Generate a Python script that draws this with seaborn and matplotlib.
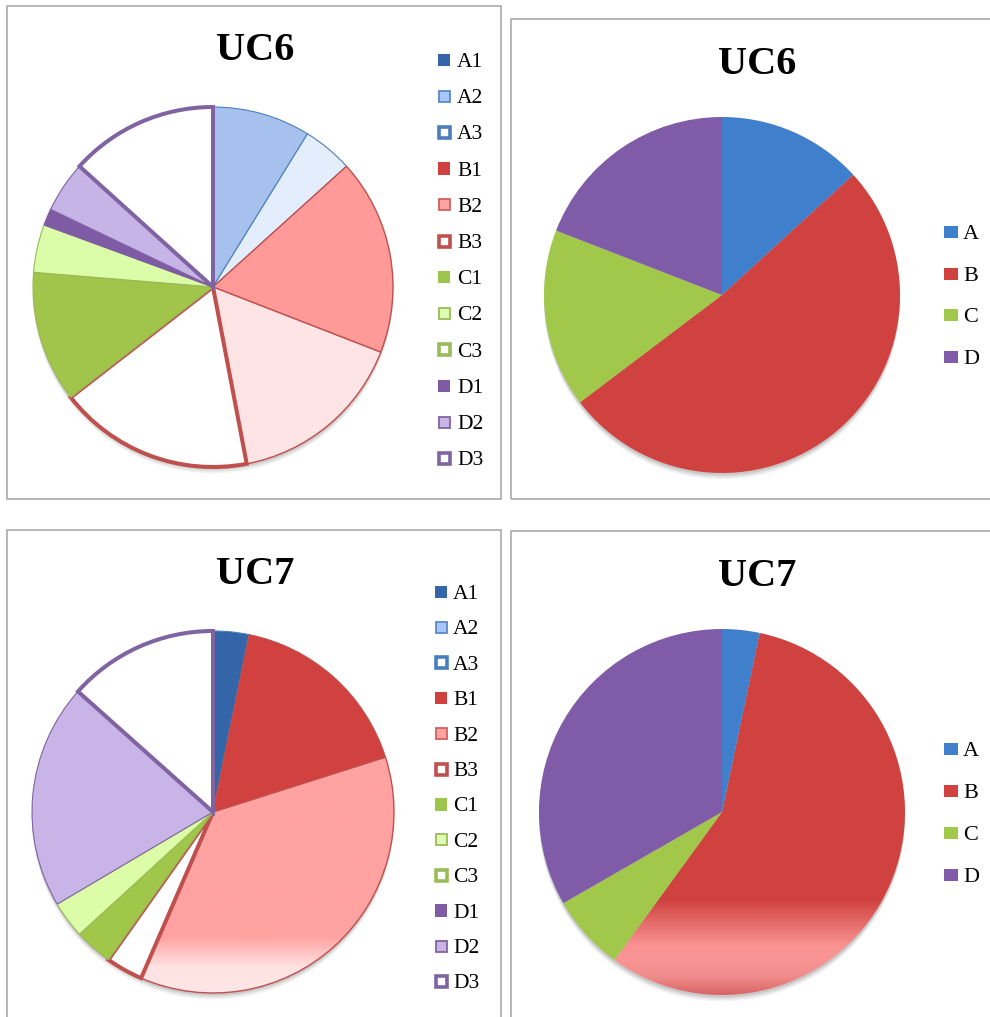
import numpy as np
import pandas as pd
import seaborn as sns
import matplotlib
matplotlib.use("Agg")
import matplotlib.pyplot as plt
from matplotlib.patches import Rectangle, Circle
from matplotlib.colors import to_rgb

sns.set_theme(style="white")
plt.rcParams['font.family'] = ['Liberation Serif', 'DejaVu Serif']
plt.rcParams['text.color'] = 'black'

# ---------------- data ----------------
detail_labels = ["A1", "A2", "A3", "B1", "B2", "B3", "C1", "C2", "C3", "D1", "D2", "D3"]
uc6_detail = [0, 8.8, 4.5, 17.6, 16.1, 17.5, 11.8, 4.3, 0, 1.5, 4.6, 13.3]
uc7_detail = [3.2, 0, 0, 16.9, 36.4, 3.3, 3.4, 3.3, 0, 0, 20.1, 13.4]
group_labels = ["A", "B", "C", "D"]
uc6_group = [13.2, 51.5, 16.2, 19.1]
uc7_group = [3.3, 56.7, 6.7, 33.3]
titles = ["UC6", "UC6", "UC7", "UC7"]

# ---------------- styles ----------------
W, H, DPI = 990, 1017, 100
BLUE_E, RED_E, GREEN_E, PURP_E = "#4A7EBB", "#C0504D", "#9BBB59", "#8064A2"
THICK = 2.9
THIN = 0.8

legend_style = [
    ("#3465A8", "#3465A8", 0.0), ("#A7C7FB", "#5B89C6", 1.3), ("white", BLUE_E, 2.6),
    ("#D0403F", "#D0403F", 0.0), ("#FFA3A2", "#D06060", 1.3), ("white", RED_E, 2.6),
    ("#9DC44B", "#9DC44B", 0.0), ("#DEFDB3", GREEN_E, 1.3), ("white", GREEN_E, 2.6),
    ("#7F5BA6", "#7F5BA6", 0.0), ("#C8B5E6", PURP_E, 1.3), ("white", PURP_E, 2.6),
]
uc6_slice_style = [
    ("#3465A8", BLUE_E, THIN), ("#A6C1EE", BLUE_E, THIN), ("#E4EDFC", BLUE_E, THIN),
    ("#FF9A98", RED_E, 1.0), ("#FFE4E5", RED_E, 1.0), ("white", RED_E, THICK),
    ("#A0C54A", "#98B954", THIN), ("#DBFCA8", "#98B954", THIN), ("white", GREEN_E, THICK),
    ("#7F5BA6", "#7F5BA6", THIN), ("#C7B4E6", PURP_E, THIN), ("white", PURP_E, THICK),
]
uc7_slice_style = [
    ("#3465A8", BLUE_E, THIN), ("#A6C1EE", BLUE_E, THIN), ("white", BLUE_E, THIN),
    ("#D04140", RED_E, THIN), ("#FFA2A1", RED_E, 1.0), ("white", RED_E, THICK),
    ("#A0C64A", "#98B954", THIN), ("#DCFCA8", "#98B954", THIN), ("white", GREEN_E, THICK),
    ("#7F5BA6", "#7F5BA6", THIN), ("#C8B4E6", PURP_E, THIN), ("white", PURP_E, THICK),
]
group_colors = ["#3F7FCC", "#D04240", "#A1C84A", "#7F5BA8"]

fig = plt.figure(figsize=(W / DPI, H / DPI), dpi=DPI)
fig.patch.set_facecolor("white")


def fx(x):
    return x / W


def fy(y):
    return 1 - y / H


def border(x0, y0, x1, y1):
    fig.add_artist(Rectangle((fx(x0), fy(y1)), (x1 - x0) / W, (y1 - y0) / H,
                             transform=fig.transFigure, fill=False,
                             ec="#A3A3A3", lw=1.1))


def pie_axes(cx, cy, r):
    ax = fig.add_axes([fx(cx - r), fy(cy + r), 2 * r / W, 2 * r / H])
    ax.set_xlim(-1, 1)
    ax.set_ylim(-1, 1)
    ax.axis("off")
    # soft shadow
    for dy, a in [(-0.035, 0.05), (-0.025, 0.07), (-0.014, 0.10)]:
        c = Circle((0, dy), 1.0, color="black", alpha=a, lw=0, zorder=0.1)
        c.set_clip_on(False)
        ax.add_patch(c)
    return ax


def gradient(ax, wedge, stops):
    ys = np.linspace(-1, 1, 500)
    pos = [s[0] for s in stops]
    cols = np.array([to_rgb(s[1]) for s in stops])
    img = np.stack([np.interp(ys, pos, cols[:, k]) for k in range(3)], axis=-1)
    img = np.repeat(img[:, None, :], 4, axis=1)
    im = ax.imshow(img, extent=[-1, 1, -1, 1], origin="lower", aspect="auto",
                   zorder=0.5, interpolation="bilinear")
    im.set_clip_path(wedge)
    wedge.set_facecolor("none")
    ax.set_xlim(-1, 1)
    ax.set_ylim(-1, 1)


def draw_pie(ax, values, styles):
    vals = [v for v in values if v > 0]
    st = [s for v, s in zip(values, styles) if v > 0]
    wedges, _ = ax.pie(vals, startangle=90, counterclock=False, radius=1,
                       colors=[s[0] for s in st])
    for w, s in zip(wedges, st):
        w.set_edgecolor(s[1])
        w.set_linewidth(s[2])
        w.set_joinstyle("miter")
        w.set_clip_on(False)
    ax.set_xlim(-1, 1)
    ax.set_ylim(-1, 1)
    ax.set_aspect("equal")
    idx = [i for i, v in enumerate(values) if v > 0]
    return dict(zip(idx, wedges))


def legend(labels, styles, mx, tx, y0, dy, size, fs, wh=None):
    for i, (lab, s) in enumerate(zip(labels, styles)):
        y = y0 + i * dy
        face, edge, lw = s
        w_ = wh[0] if wh else size
        h_ = wh[1] if wh else size
        if lw > 0:
            w_ -= 1.5
            h_ -= 1.5
        fig.add_artist(Rectangle((fx(mx - w_ / 2), fy(y + h_ / 2)), w_ / W, h_ / H,
                                 transform=fig.transFigure, fc=face, ec=edge,
                                 lw=lw, joinstyle="miter"))
        fig.text(fx(tx), fy(y), lab, fontsize=fs, ha="left", va="center_baseline",
                 color="black")


# ---------------- panel borders ----------------
border(7, 6, 501, 499)
border(511, 19, 1000, 499)
border(7, 530, 501, 1030)
border(511, 531, 1000, 1030)

# ---------------- titles ----------------
for (x, y), t in zip([(255, 51), (757, 64), (255, 574), (757, 576)], titles):
    fig.text(fx(x), fy(y), t, fontsize=29, fontweight="bold", ha="center",
             va="center", color="black")

# ---------------- UC6 detail ----------------
ax1 = pie_axes(213, 287, 180)
draw_pie(ax1, uc6_detail, uc6_slice_style)
legend(detail_labels, legend_style, 444, 457, 60, 36.2, 12.5, 15.5)

# ---------------- UC6 grouped ----------------
ax2 = pie_axes(722, 295, 178)
draw_pie(ax2, uc6_group, [(c, c, 0) for c in group_colors])
legend(group_labels, [(c, c, 0) for c in group_colors], 951, 963, 232, 41.7,
       12, 16, wh=(14, 12))

# ---------------- UC7 detail ----------------
ax3 = pie_axes(213, 812, 181)
w3 = draw_pie(ax3, uc7_detail, uc7_slice_style)
gradient(ax3, w3[4], [(-1.0, "#FFE6E6"), (-0.86, "#FFE3E3"), (-0.69, "#FFA2A1"),
                      (1.0, "#FFA2A1")])
legend(detail_labels, legend_style, 441, 453, 592, 35.4, 12.5, 15.5)

# ---------------- UC7 grouped ----------------
ax4 = pie_axes(722, 812, 183)
w4 = draw_pie(ax4, uc7_group, [(c, c, 0) for c in group_colors])
gradient(ax4, w4[1], [(-1.0, "#DA6464"), (-0.9, "#F08C8C"), (-0.8, "#F99595"),
                      (-0.73, "#F89391"), (-0.48, "#D04240"), (1.0, "#D04240")])
legend(group_labels, [(c, c, 0) for c in group_colors], 951, 963, 749, 42,
       12, 16, wh=(14, 12))

fig.savefig("out.png", dpi=DPI, facecolor="white")
